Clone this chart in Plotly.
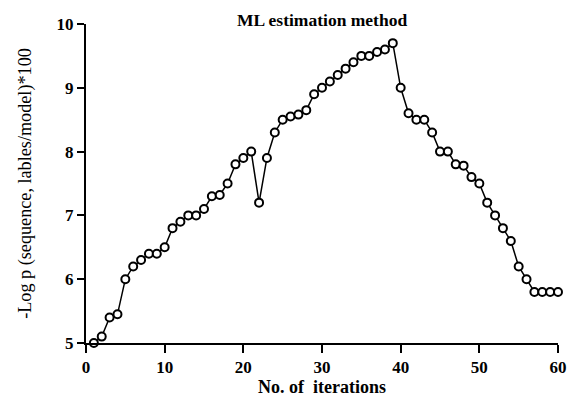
import plotly.graph_objects as go

iterations = list(range(1, 61))
log_p = [5.0, 5.1, 5.4, 5.45, 6.0, 6.2, 6.3, 6.4, 6.4, 6.5,
         6.8, 6.9, 7.0, 7.0, 7.1, 7.3, 7.32, 7.5, 7.8, 7.9,
         8.0, 7.2, 7.9, 8.3, 8.5, 8.55, 8.58, 8.65, 8.9, 9.0,
         9.1, 9.2, 9.3, 9.4, 9.5, 9.5, 9.56, 9.6, 9.7, 9.0,
         8.6, 8.5, 8.5, 8.3, 8.0, 8.0, 7.8, 7.78, 7.6, 7.5,
         7.2, 7.0, 6.8, 6.6, 6.2, 6.0, 5.8, 5.8, 5.8, 5.8]
x_ticks = [0, 10, 20, 30, 40, 50, 60]
y_ticks = [5, 6, 7, 8, 9, 10]

FONT = "Liberation Serif"

fig = go.Figure()
fig.add_trace(go.Scatter(
    x=iterations, y=log_p, mode="lines+markers",
    line=dict(color="black", width=1.5),
    marker=dict(symbol="circle", size=8, color="white",
                line=dict(color="black", width=2)),
    cliponaxis=False, showlegend=False,
))

fig.update_layout(
    width=568, height=399,
    margin=dict(l=86, r=10, t=24, b=56),
    paper_bgcolor="white", plot_bgcolor="white",
    font=dict(family=FONT, color="black"),
    xaxis=dict(range=[0, 60], tickvals=x_ticks, showgrid=False, zeroline=False,
               automargin=False,
               showline=True, linecolor="black", linewidth=2,
               ticks="outside", ticklen=8, tickwidth=2, tickcolor="black",
               tickfont=dict(family=FONT, size=17, color="black", weight="bold"),
               title=dict(text="<b>No. of  iterations</b>", standoff=4,
                          font=dict(family=FONT, size=18, color="black"))),
    yaxis=dict(range=[5, 10], tickvals=y_ticks, showgrid=False, zeroline=False,
               automargin=False,
               showline=True, linecolor="black", linewidth=2,
               ticks="outside", ticklen=7, tickwidth=2, tickcolor="black",
               tickfont=dict(family=FONT, size=17, color="black", weight="bold"),
               title=dict(text="-Log p (sequence, lables/model)*100", standoff=20,
                          font=dict(family=FONT, size=18.2, color="black"))),
    annotations=[dict(text="<b>ML estimation method</b>", xref="paper", yref="paper",
                      x=0.5, y=1, yshift=4, xanchor="center", yanchor="middle",
                      showarrow=False, font=dict(family=FONT, size=17.5, color="black"))],
)

fig.write_html(
    "out.html",
    config={"displayModeBar": False},
    post_script="document.body.style.margin='0';document.body.style.overflow='hidden';",
)
